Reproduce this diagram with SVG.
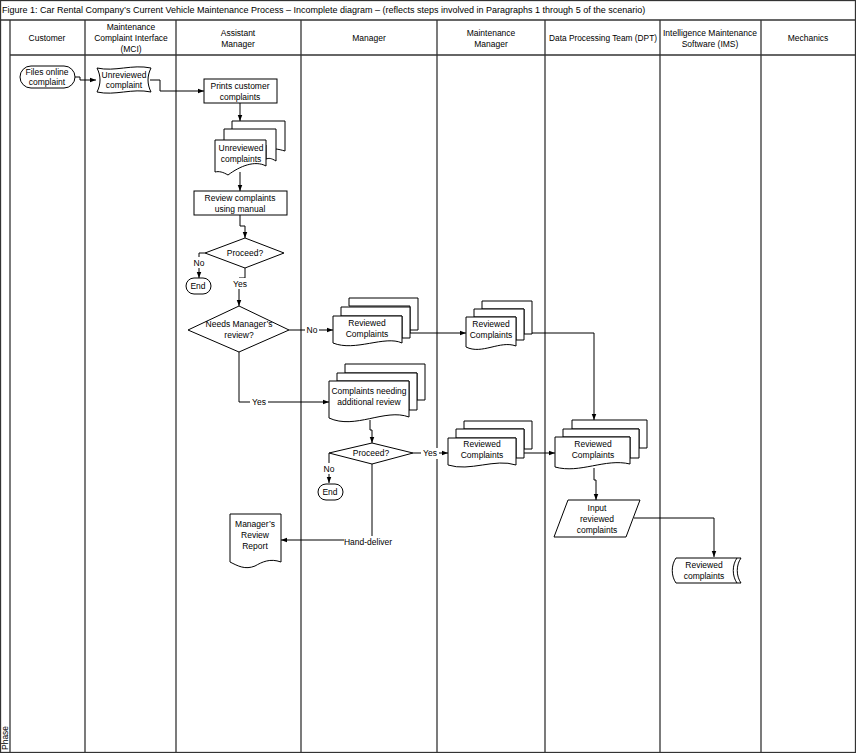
<svg xmlns="http://www.w3.org/2000/svg" width="856" height="753" viewBox="0 0 856 753">
<style>
text{font-family:"Liberation Sans",Arial,sans-serif;font-size:8.5px;fill:#000;text-anchor:middle}
.h{font-size:9px}
.s{fill:#fff;stroke:#000;stroke-width:1}
.ln{stroke:#333;stroke-width:1.3;fill:none}
.c{fill:none;stroke:#000;stroke-width:1;marker-end:url(#a)}
.cn{fill:none;stroke:#000;stroke-width:1}
</style>
<defs>
<marker id="a" viewBox="0 0 8 8" refX="8" refY="4" markerWidth="6" markerHeight="6" orient="auto"><path d="M0,1L8,4L0,7z" fill="#000"/></marker>
</defs>
<rect x="0" y="0" width="856" height="753" fill="#fff"/>
<g id="frame">
<rect x="0.5" y="0.5" width="855" height="752" class="ln"/>
<line x1="0" y1="20" x2="856" y2="20" class="ln"/>
<text x="2" y="13" style="text-anchor:start" class="h">Figure 1: Car Rental Company’s Current Vehicle Maintenance Process – Incomplete diagram – (reflects steps involved in Paragraphs 1 through 5 of the scenario)</text>
<line x1="10" y1="20" x2="10" y2="753" class="ln"/>
<line x1="10" y1="55" x2="856" y2="55" class="ln"/>
<line x1="85" y1="20" x2="85" y2="753" class="ln"/>
<line x1="176" y1="20" x2="176" y2="753" class="ln"/>
<line x1="301" y1="20" x2="301" y2="753" class="ln"/>
<line x1="437" y1="20" x2="437" y2="753" class="ln"/>
<line x1="545" y1="20" x2="545" y2="753" class="ln"/>
<line x1="660" y1="20" x2="660" y2="753" class="ln"/>
<line x1="761" y1="20" x2="761" y2="753" class="ln"/>
<text x="47" y="41">Customer</text>
<text x="131" y="30">Maintenance</text><text x="131" y="41">Complaint Interface</text><text x="131" y="52">(MCI)</text>
<text x="238" y="36">Assistant</text><text x="238" y="47">Manager</text>
<text x="369" y="41">Manager</text>
<text x="491" y="36">Maintenance</text><text x="491" y="47">Manager</text>
<text x="603" y="41" textLength="108" lengthAdjust="spacingAndGlyphs">Data Processing Team (DPT)</text>
<text x="710" y="36" textLength="94" lengthAdjust="spacingAndGlyphs">Intelligence Maintenance</text><text x="710" y="47">Software (IMS)</text>
<text x="808" y="41">Mechanics</text>
<text transform="translate(8,750) rotate(-90)" style="text-anchor:start">Phase</text>
</g>
<g id="connectors">
<path class="c" d="M75,77H80V80H96"/>
<path class="c" d="M150,80H160V91H204"/>
<path class="c" d="M240,103V121"/>
<path class="c" d="M240,172V191"/>
<path class="c" d="M240,215V226H245V238"/>
<path class="c" d="M205,253H199V278"/>
<path class="c" d="M245,268V278H239V306"/>
<path class="c" d="M289,330H333"/>
<path class="c" d="M239,352V402H329"/>
<path class="c" d="M402,330H410V333H466"/>
<path class="c" d="M516,333H594V420"/>
<path class="c" d="M370,420V430H372V443"/>
<path class="c" d="M329,453V483"/>
<path class="c" d="M413,453H448"/>
<path class="c" d="M372,464V540H281"/>
<path class="c" d="M516,453H555"/>
<path class="c" d="M594,468V480H596V500"/>
<path class="c" d="M634,518H714V557"/>
<g>
<rect x="192" y="257" width="14" height="11" fill="#fff"/><text x="199" y="266">No</text>
<rect x="231" y="278" width="18" height="11" fill="#fff"/><text x="240" y="287">Yes</text>
<rect x="305" y="325" width="14" height="11" fill="#fff"/><text x="312" y="333">No</text>
<rect x="250" y="397" width="18" height="11" fill="#fff"/><text x="259" y="405">Yes</text>
<rect x="322" y="463" width="14" height="11" fill="#fff"/><text x="329" y="472">No</text>
<rect x="421" y="448" width="18" height="11" fill="#fff"/><text x="430" y="456">Yes</text>
<rect x="344" y="536" width="48" height="11" fill="#fff"/><text x="368" y="545">Hand-deliver</text>
</g>
</g>
<g id="files-online"><rect class="s" x="20" y="66" width="55" height="22" rx="11"/><text x="47" y="75">Files online</text><text x="47" y="85">complaint</text></g>
<g id="unreviewed-mci"><path class="s" d="M97,68C115,72 132,64 151,68C147,76 147,84 151,92C132,88 115,96 97,92C101,84 101,76 97,68z"/><text x="124" y="78">Unreviewed</text><text x="124" y="88">complaint</text></g>
<g id="prints"><rect class="s" x="204" y="79" width="73" height="24"/><text x="240" y="89">Prints customer</text><text x="240" y="100">complaints</text></g>
<g id="unreviewed-multi">
<path class="s" d="M232,121H285V151C278,149 273,148 269,150V137H232z"/>
<path class="s" d="M224,129H276V161C271,158 269,158 266,159V145H224z"/>
<path class="s" d="M215,140H266V166C255,160 240,166 228,175C223,172 219,171 215,172z"/>
<text x="241" y="151">Unreviewed</text><text x="241" y="162">complaints</text></g>
<g id="review-manual"><rect class="s" x="194" y="191" width="93" height="24"/><text x="240" y="201">Review complaints</text><text x="240" y="212">using manual</text></g>
<g id="proceed1"><path class="s" d="M205,253L245,238L284,253L245,268z"/><text x="245" y="256">Proceed?</text></g>
<g id="end1"><rect class="s" x="186" y="278" width="25" height="16" rx="8"/><text x="198" y="289">End</text></g>
<g id="needs-review"><path class="s" d="M188,330L239,306L289,330L239,352z"/><text x="239" y="327">Needs Manager’s</text><text x="239" y="338">review?</text></g>
<g id="reviewed-mgr">
<path class="s" d="M349,298H418V330H410V306H349z"/>
<path class="s" d="M341,307H410V338H402V316H341z"/>
<path class="s" d="M333,316H402V343C385,335 355,352 333,343z"/>
<text x="367" y="326">Reviewed</text><text x="367" y="337">Complaints</text></g>
<g id="reviewed-mm1">
<path class="s" d="M482,301H532V334H524V309H482z"/>
<path class="s" d="M474,309H524V340H516V317H474z"/>
<path class="s" d="M466,317H516V346C500,340 482,355 466,347z"/>
<text x="491" y="327">Reviewed</text><text x="491" y="338">Complaints</text></g>
<g id="needing-review">
<path class="s" d="M345,364H425V400H417V373H345z"/>
<path class="s" d="M337,373H417V410H409V381H337z"/>
<path class="s" d="M329,381H409V417C385,408 355,430 329,418z"/>
<text x="369" y="394">Complaints needing</text><text x="369" y="405">additional review</text></g>
<g id="proceed2"><path class="s" d="M329,453L372,443L413,453L372,464z"/><text x="371" y="456">Proceed?</text></g>
<g id="end2"><rect class="s" x="318" y="484" width="25" height="16" rx="8"/><text x="330" y="495">End</text></g>
<g id="mgr-report"><path class="s" d="M230,514H281V562C270,558 262,562 255,566C245,570 238,566 230,562z"/><text x="255" y="527">Manager’s</text><text x="255" y="538">Review</text><text x="255" y="549">Report</text></g>
<g id="reviewed-mm2">
<path class="s" d="M464,421H532V449H524V429H464z"/>
<path class="s" d="M456,429H524V458H516V438H456z"/>
<path class="s" d="M448,438H516V465C495,458 470,472 448,465z"/>
<text x="482" y="447">Reviewed</text><text x="482" y="458">Complaints</text></g>
<g id="reviewed-dpt">
<path class="s" d="M572,420H647V448H639V429H572z"/>
<path class="s" d="M563,429H639V458H630V437H563z"/>
<path class="s" d="M555,437H630V464C605,458 580,474 555,467z"/>
<text x="593" y="447">Reviewed</text><text x="593" y="458">Complaints</text></g>
<g id="input-reviewed"><path class="s" d="M568,500H640L626,537H554z"/><text x="597" y="511">Input</text><text x="597" y="522">reviewed</text><text x="597" y="533">complaints</text></g>
<g id="stored-ims"><path class="s" d="M676,558H741C736,565 736,576 741,583H676C671,576 671,565 676,558z"/><path class="cn" d="M737,558C732,565 732,576 737,583"/><text x="704" y="568">Reviewed</text><text x="704" y="579">complaints</text></g>
</svg>
